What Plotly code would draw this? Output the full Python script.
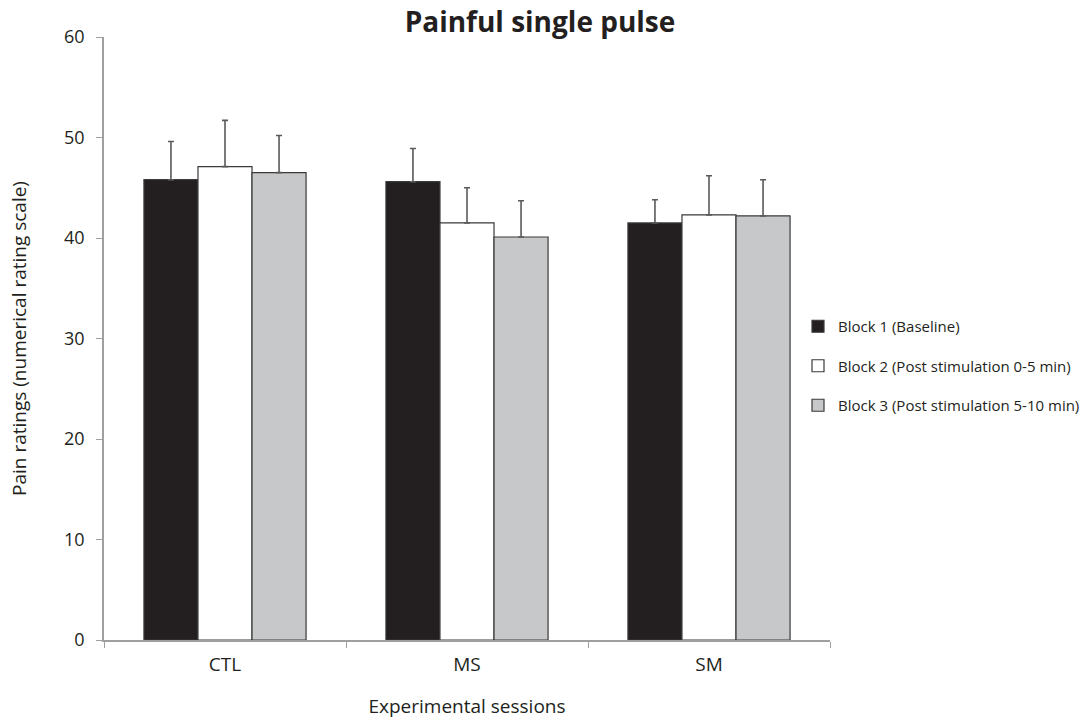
import plotly.graph_objects as go

sessions = ["CTL", "MS", "SM"]
block_names = [
    "Block 1 (Baseline)",
    "Block 2 (Post stimulation 0-5 min)",
    "Block 3 (Post stimulation 5-10 min)",
]
block1 = [45.8, 45.6, 41.5]
block1_err = [3.8, 3.3, 2.3]
block2 = [47.1, 41.5, 42.3]
block2_err = [4.6, 3.5, 3.9]
block3 = [46.5, 40.1, 42.2]
block3_err = [3.7, 3.6, 3.6]
y_ticks = [0, 10, 20, 30, 40, 50, 60]

fills = ["#231f20", "#ffffff", "#c7c8ca"]
font_family = "Open Sans, Noto Sans, sans-serif"

fig = go.Figure()
for i, (name, vals, errs, col) in enumerate(zip(block_names, [block1, block2, block3],
                                                [block1_err, block2_err, block3_err], fills)):
    fig.add_trace(go.Bar(
        x=sessions, y=vals, name=name, legendgroup=f"g{i}",
        marker=dict(color=col, line=dict(color="#3a3a3a", width=1.2)),
        error_y=dict(type="data", array=errs, symmetric=False, arrayminus=[0] * len(errs),
                     color="#5a5a5a", thickness=1.6, width=3),
    ))

fig.update_layout(
    width=1080, height=721,
    paper_bgcolor="white", plot_bgcolor="white",
    margin=dict(l=104, r=250, t=37, b=81, autoexpand=False),
    barmode="group", bargap=0.33, bargroupgap=0,
    font=dict(family=font_family, color="#231f20", size=18),
    title=dict(text="<b>Painful single pulse</b>", x=0.5, xref="container", xanchor="center",
               y=0.969, yref="container", yanchor="middle",
               font=dict(size=28, color="#231f20", family=font_family)),
    legend=dict(x=(798 - 104) / 726, y=(640 - 366) / 603, xanchor="left", yanchor="middle",
                font=dict(size=15, color="#231f20"),
                tracegroupgap=17, itemwidth=30, bgcolor="rgba(0,0,0,0)"),
    showlegend=True,
)

fig.update_xaxes(
    type="category", tickson="boundaries", ticks="outside", ticklen=6,
    tickcolor="#a0a0a0", showline=True, linecolor="#a0a0a0", linewidth=2,
    showgrid=False, tickfont=dict(size=19), ticklabelstandoff=6,
    title=dict(text="Experimental sessions", font=dict(size=19), standoff=24),
)
fig.update_yaxes(
    range=[0, 60], tickvals=y_ticks, ticks="outside", ticklen=6,
    tickcolor="#a0a0a0", showline=True, linecolor="#a0a0a0", linewidth=1.5,
    showgrid=False, zeroline=False, tickfont=dict(size=18), ticklabelstandoff=8,
    title=dict(text="Pain ratings (numerical rating scale)", font=dict(size=19), standoff=32),
)

fig.write_html("out.html")
